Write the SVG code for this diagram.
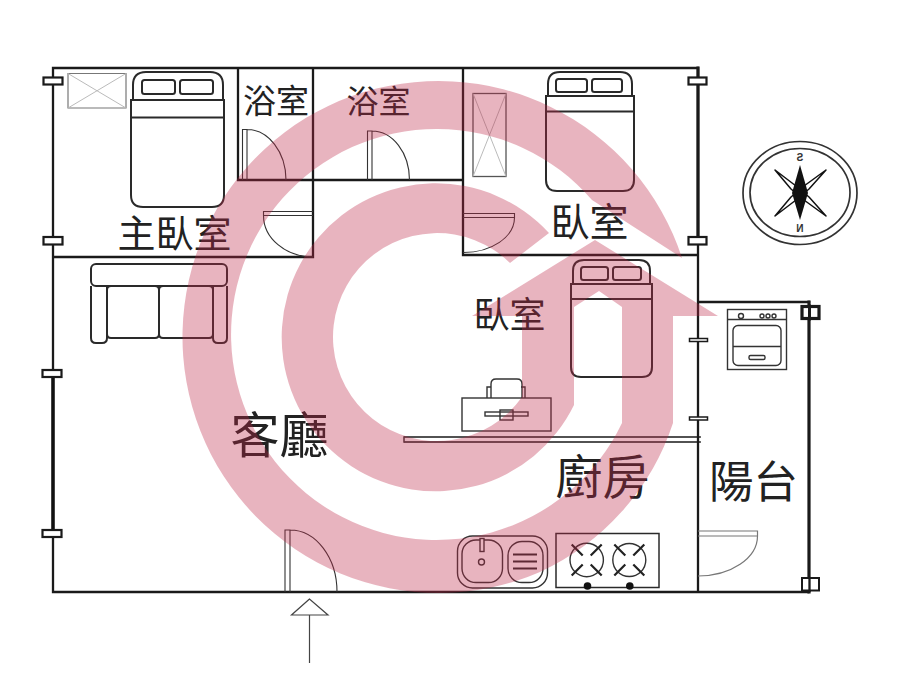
<svg xmlns="http://www.w3.org/2000/svg" width="900" height="675" viewBox="0 0 900 675">
<style>
.w{fill:none;stroke:#1a1a1a;stroke-width:2.300;stroke-linecap:square}
.t{fill:none;stroke:#111;stroke-width:3.500}
.f{fill:none;stroke:#2a2a2a;stroke-width:2}
.b{fill:none;stroke:#333;stroke-width:1.400}
.d{fill:none;stroke:#333;stroke-width:1.100}
.g{fill:none;stroke:#777;stroke-width:1.200}
.m{fill:#fff;stroke:#1a1a1a;stroke-width:2.200}
.l{font-family:"Noto Sans CJK TC","Noto Sans CJK SC",sans-serif;font-weight:400;fill:#222}
</style>
<rect width="900" height="675" fill="#fff"/>
<g id="walls">
<path class="w" d="M53 68H698V592H53ZM53 257H313M238 68V180H463M313 68V257M463 68V255H698M698 302H809M698 592H808"/>
<path class="t" d="M53 373V533"/>
<path class="w" style="stroke-width:3.200" d="M698 68V240M809 302V592"/>
<path class="w" style="stroke-width:1.700" d="M405 437H700M405 442H700"/>
<path class="w" style="stroke-width:1.500;stroke:#333" d="M404 437V442"/>
</g>
<g id="windows">
<rect class="m" x="43.500" y="77.500" width="19" height="7"/>
<rect class="m" x="43.500" y="237" width="19" height="7.500"/>
<rect class="m" x="42.500" y="370" width="19" height="7"/>
<rect class="m" x="42.500" y="530" width="19" height="7"/>
<rect class="m" x="688.500" y="77.500" width="18" height="7"/>
<rect class="m" x="688.500" y="237" width="18" height="7.500"/>
<rect class="m" style="stroke-width:1.500" x="689.500" y="338.500" width="18" height="3"/>
<rect class="m" style="stroke-width:1.500" x="689.500" y="417" width="18" height="3"/>
<rect class="m" style="stroke-width:3.200" x="802" y="306.500" width="17" height="12"/>
<path class="w" style="stroke-width:3" d="M809.500 306V319"/>
<rect class="m" style="stroke-width:2" x="802" y="578" width="17" height="12.500"/>
<path class="w" d="M809.500 578V591"/>
</g>
<g id="closets">
<path class="g" d="M68 73.500H126V108H68Z"/>
<path d="M68 73.500L126 108M126 73.500L68 108" fill="none" stroke="#bbb"/>
<rect x="473" y="93.500" width="33" height="83" fill="none" stroke="#555" stroke-width="1.300"/>
<path d="M473 93.500L506 176.500M506 93.500L473 176.500" fill="none" stroke="#bbb"/>
</g>
<g id="bed-master">
<path class="f" d="M133 100V85Q133 72 146 72H210Q223 72 223 85V100"/>
<rect class="f" x="142" y="80" width="33" height="14" rx="2.500"/>
<rect class="f" x="180" y="80" width="33" height="14" rx="2.500"/>
<path class="f" d="M131 100H224V195Q224 207 212 207H143Q131 207 131 195Z"/>
<path class="f" d="M131 117.500H224"/>
</g>
<g id="bed-east">
<path class="f" d="M548 96V84Q548 72 560 72H620Q632 72 632 84V96"/>
<rect class="f" x="556" y="79" width="31" height="13" rx="2.500"/>
<rect class="f" x="592" y="79" width="30" height="13" rx="2.500"/>
<path class="f" d="M546 96H634V180Q634 191 623 191H557Q546 191 546 180Z"/>
<path class="f" d="M546 111.500H634"/>
</g>
<g id="bed-center">
<path class="f" d="M573 284V271Q573 260 584 260H639Q650 260 650 271V284"/>
<rect class="f" x="581" y="267" width="27" height="13" rx="2.500"/>
<rect class="f" x="613" y="267" width="28" height="13" rx="2.500"/>
<path class="f" d="M571 284H652V367Q652 377 642 377H581Q571 377 571 367Z"/>
<path class="f" d="M571 299H652"/>
</g>
<g id="sofa">
<rect class="f" x="91" y="264" width="136" height="22" rx="5"/>
<path class="f" d="M91 286V338Q91 343 96 343H102Q107 343 107 338V286M213 286V338Q213 343 218 343H222Q227 343 227 338V286"/>
<path class="f" d="M107 290Q107 286 111 286H155Q159 286 159 290V334Q159 338 155 338H111Q107 338 107 334ZM159 290Q159 286 163 286H209Q213 286 213 290V334Q213 338 209 338H163Q159 338 159 334Z"/>
</g>
<g id="desk">
<path class="b" d="M487 398V387H491M521 387H525V398"/>
<path class="b" d="M491 398V384Q491 379 496 379H517Q522 379 522 384V398"/>
<rect class="b" x="462" y="398" width="89" height="33"/>
<rect class="b" x="485" y="412" width="43" height="4"/>
<rect class="b" x="500" y="410" width="13" height="10"/>
</g>
<g id="washer">
<rect class="b" x="727.500" y="309.500" width="59" height="60"/>
<path class="b" d="M727.500 319.500H786.500M733 346.500H781"/>
<rect class="b" x="733" y="325.500" width="48" height="40" rx="5"/>
<rect class="b" x="749" y="355.500" width="16" height="4" rx="1.500"/>
<circle class="b" cx="741" cy="316" r="2.500"/>
<circle class="b" cx="762" cy="316" r="2"/>
<circle class="b" cx="768" cy="316" r="2"/>
<circle class="b" cx="774" cy="316" r="2"/>
</g>
<g id="sink">
<rect class="b" x="457.500" y="536" width="90" height="52" rx="15"/>
<rect class="b" x="462" y="540" width="40.500" height="42.500" rx="14"/>
<rect class="b" x="508" y="541.500" width="35" height="41" rx="14"/>
<circle class="b" cx="481.500" cy="562" r="3"/>
<rect class="b" x="480" y="538.500" width="4" height="13" style="fill:#fff"/>
<path class="f" style="stroke-width:2.200" d="M513 554.500H537M513 561.500H537M513 568.500H537"/>
</g>
<g id="stove">
<rect class="f" style="stroke-width:1.500" x="556" y="533.500" width="103" height="54"/>
<circle class="b" cx="586.700" cy="560" r="16.700"/>
<circle class="b" cx="629.300" cy="560" r="16.500"/>
<path class="f" style="stroke-width:2.200;stroke:#222" d="M571.700 544.500L582.700 555.500M601.700 544.500L590.700 555.500M571.700 575.500L582.700 564.500M601.700 575.500L590.700 564.500M614.300 544.500L625.300 555.500M644.300 544.500L633.300 555.500M614.300 575.500L625.300 564.500M644.300 575.500L633.300 564.500"/>
<circle cx="587.500" cy="586" r="3.800" fill="#111"/>
<circle cx="629.800" cy="586" r="3.800" fill="#111"/>
</g>
<g id="doors">
<path class="d" d="M242.500 180V129.500H247V180M247 129.500A39 50.500 0 0 1 286 180"/>
<path class="d" d="M367.500 180V131H372V180M372 131A37.500 49 0 0 1 409.500 180"/>
<path class="d" d="M313 211.500H263.500V215.500H313M263.500 215.500A50 41.500 0 0 0 313 257"/>
<path class="d" d="M463 213.500H514.500V217.500H463M514.500 217.500A51 35 0 0 1 463 252.500"/>
<path class="d" d="M285 592V530H290V592M290 530A47 62 0 0 1 337 592"/>
<path class="g" d="M698 531H757.500V536H698M757.500 536A59.500 40 0 0 1 698 576"/>
</g>
<g id="entry-arrow">
<path d="M309.500 599L291.500 615H328Z" fill="#fff" stroke="#444" stroke-width="1.200"/>
<path d="M309.500 615V663" fill="none" stroke="#444" stroke-width="1.200"/>
</g>
<g id="compass">
<ellipse cx="800" cy="193" rx="57" ry="51.500" fill="none" stroke="#333" stroke-width="1.700"/>
<ellipse cx="800" cy="192.500" rx="50" ry="44" fill="none" stroke="#333" stroke-width="1.700"/>
<path d="M775 170L796 186L809 197L826 216L804 200L791 189Z" fill="#fff" stroke="#111" stroke-width="1.500" stroke-linejoin="round"/>
<path d="M826 170L804 186L791 197L775 216L796 200L809 189Z" fill="#fff" stroke="#111" stroke-width="1.500" stroke-linejoin="round"/>
<path d="M800 165L808 193L800 220L792 193Z" fill="#111"/>
<text transform="translate(800 161) scale(-1 1)" text-anchor="middle" style="font-family:'Liberation Sans',sans-serif;font-size:10px;font-weight:700" fill="#333">S</text>
<text transform="translate(800 232) scale(-1 1)" text-anchor="middle" style="font-family:'Liberation Sans',sans-serif;font-size:10px;font-weight:700" fill="#333">N</text>
</g>
<g id="labels">
<text class="l" x="117.500" y="247" font-size="38">主臥室</text>
<text class="l" x="243" y="113" font-size="33">浴室</text>
<text class="l" x="346.500" y="113" font-size="32">浴室</text>
<text class="l" x="550.500" y="236" font-size="39">臥室</text>
<text class="l" x="473.500" y="328" font-size="36">臥室</text>
<text class="l" x="230.500" y="453" font-size="49">客廳</text>
<text class="l" x="555.500" y="494" font-size="47">廚房</text>
<text class="l" x="709" y="498" font-size="44.500">陽台</text>
</g>
<path id="watermark" fill="#bc2847" fill-opacity="0.35" d="M595 240L718 316H673V423A250 250 0 0 1 540 572A256 256 0 1 1 682 258L592 200A205.500 205.500 0 1 0 622 423V307L599 291L574 307V405A154 154 0 1 1 549 233L510 263A104 104 0 1 0 522 397V316H472Z"/>
</svg>
